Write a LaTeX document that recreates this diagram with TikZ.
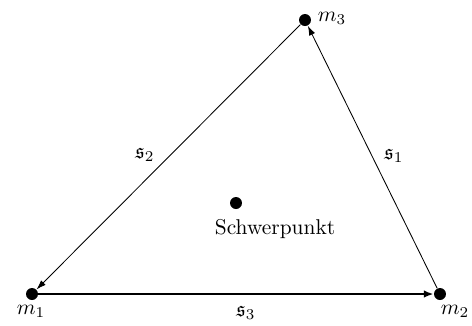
\documentclass[tikz,border=0pt]{standalone}
\usepackage{amsfonts}
\usetikzlibrary{arrows.meta}
\tikzset{
  mass dot/.style={circle, fill=black, inner sep=0pt, minimum size=5.6pt},
  mass label/.style={inner sep=1pt},
  side thin/.style={draw=black, line width=0.4pt, -{Latex[length=4.5pt,width=3pt]}},
  side thick/.style={draw=black, line width=1.2pt, -{Latex[length=4.5pt,width=3.5pt]}},
}
\begin{document}
\begin{tikzpicture}[x=0.467pt,y=-0.467pt]
  \useasboundingbox (0,0) rectangle (472,325);

  % the three masses and the centre of mass
  \node[mass dot] (m1) at (32,294) {};
  \node[mass dot] (m2) at (440,294) {};
  \node[mass dot] (m3) at (305,20) {};
  \node[mass dot] (sp) at (236,203) {};

  \node[mass label] (m1lab) at (31,311) {$m_1$};
  \node[mass label] (m2lab) at (455,311) {$m_2$};
  \node[mass label] (m3lab) at (332,18) {$m_3$};
  \node[mass label] (splab) at (275,229) {Schwerpunkt};

  % sides
  \draw[side thin] (m2) -- (m3);
  \draw[side thin] (m3) -- (m1);
  \draw[side thick] (m1) -- (m2);

  \node (s1) at (394,156) {$\mathfrak{s}_1$};
  \node (s2) at (145,155) {$\mathfrak{s}_2$};
  \node (s3) at (246,313) {$\mathfrak{s}_3$};
\end{tikzpicture}
\end{document}
